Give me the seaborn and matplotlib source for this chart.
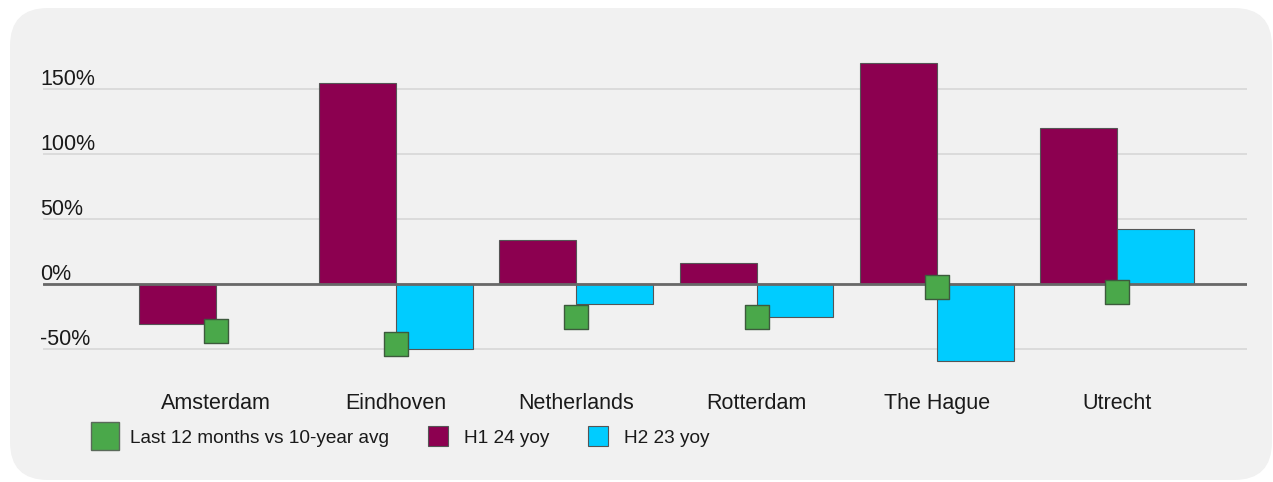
import numpy as np
import pandas as pd
import matplotlib
matplotlib.use("Agg")
import matplotlib.pyplot as plt
from matplotlib.patches import FancyBboxPatch
from matplotlib.lines import Line2D
import matplotlib.transforms as mtransforms
import seaborn as sns

# ---- data ----
categories = ["Amsterdam", "Eindhoven", "Netherlands", "Rotterdam", "The Hague", "Utrecht"]
h1_24_yoy = [-31, 155, 34, 16, 170, 120]
h2_23_yoy = [np.nan, -50, -15, -25, -59, 42]
last12_vs_10yr = [-36, -46, -25, -25, -2, -6]
yticks = [-50, 0, 50, 100, 150]
series_names = ["H1 24 yoy", "H2 23 yoy"]
legend_green = "Last 12 months vs 10-year avg"

bars = pd.DataFrame({
    "city": categories * 2,
    "series": [series_names[0]] * len(categories) + [series_names[1]] * len(categories),
    "value": h1_24_yoy + h2_23_yoy,
})
points = pd.DataFrame({"city": categories, "value": last12_vs_10yr})

MAROON = "#8c0050"
CYAN = "#00ccff"
GREEN = "#4aa84a"
EDGE = "#555555"

sns.set_theme(style="white")
plt.rcParams["font.family"] = ["Liberation Sans", "DejaVu Sans"]

fig = plt.figure(figsize=(12.73, 4.82), dpi=100)
fig.patch.set_facecolor("white")

panel = FancyBboxPatch((0.10, 0.02), 12.62, 4.72,
                       boxstyle="round,pad=0,rounding_size=0.38",
                       transform=fig.dpi_scale_trans, facecolor="#f1f1f1",
                       edgecolor="none", zorder=-10)
fig.patches.append(panel)

W, H = 1273, 482
ax = fig.add_axes([43 / W, 1 - 377.6 / H, 1204 / W, 340.6 / H])
ax.set_facecolor("none")

sns.barplot(data=bars, x="city", y="value", hue="series", order=categories,
            hue_order=series_names, palette=[MAROON, CYAN], width=0.853, gap=0,
            saturation=1, edgecolor=EDGE, linewidth=0.8, ax=ax, legend=False, zorder=3)

sns.stripplot(data=points, x="city", y="value", order=categories, jitter=False,
              marker="s", size=17.5, color=GREEN, edgecolor="#3d5a3d", linewidth=1,
              ax=ax, zorder=5)

ax.set_xlim(-0.958, 5.72)
ax.set_ylim(-72, 190)
ax.set_yticks(yticks)
ax.set_yticklabels([])
ax.tick_params(axis="y", length=0)
ax.yaxis.grid(True, color="#d9d9d9", linewidth=1.3, zorder=0)
ax.set_axisbelow(True)
ax.axhline(0, color="#686868", linewidth=2, zorder=4)
for s in ax.spines.values():
    s.set_visible(False)
ax.set_xlabel("")
ax.set_ylabel("")
ax.tick_params(axis="x", length=0, pad=11, labelsize=15.5, labelcolor="#1a1a1a")

trans = mtransforms.blended_transform_factory(ax.transAxes, ax.transData)
off = mtransforms.offset_copy(trans, fig=fig, x=-3, y=4, units="dots")
for v in yticks:
    ax.text(0, v, f"{v}%", transform=off, ha="left", va="baseline",
            fontsize=15.5, color="#1a1a1a")

handles = [
    Line2D([], [], marker="s", linestyle="none", markersize=19.5, markerfacecolor=GREEN,
           markeredgecolor="#5a6a5a", markeredgewidth=1),
    Line2D([], [], marker="s", linestyle="none", markersize=14, markerfacecolor=MAROON,
           markeredgecolor=EDGE, markeredgewidth=0.8),
    Line2D([], [], marker="s", linestyle="none", markersize=14, markerfacecolor=CYAN,
           markeredgecolor=EDGE, markeredgewidth=0.8),
]
fig.legend(handles, [legend_green] + series_names, loc="center left",
           bbox_to_anchor=(76 / W, 1 - 438 / H), ncol=3, frameon=False,
           fontsize=13.7, handlelength=1.2, handletextpad=0.76, columnspacing=1.95,
           labelcolor="#1a1a1a")

fig.savefig("out.png", dpi=100, facecolor="white")
